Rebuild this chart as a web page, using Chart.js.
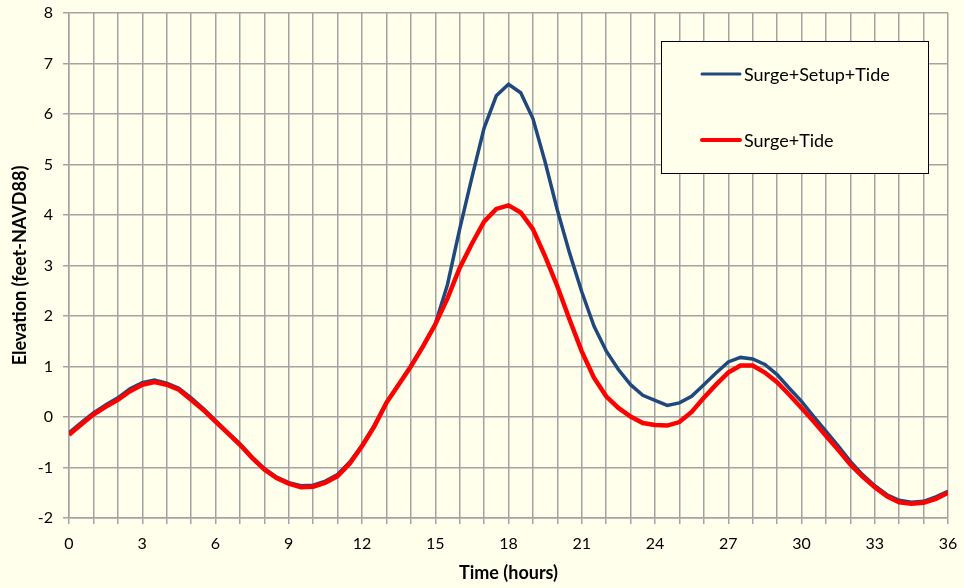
<!DOCTYPE html>
<html>
<head>
<meta charset="utf-8">
<script src="https://cdn.jsdelivr.net/npm/chart.js@4/dist/chart.umd.min.js"></script>
<style>
  html, body { margin: 0; padding: 0; background: #FFFFEC; }
  #wrap { width: 964px; height: 588px; }
</style>
</head>
<body>
<div id="wrap"><canvas id="surge-chart" width="964" height="588"></canvas></div>
<script>
/* ── Data: elevation every half hour ── */
const hours = [
  0, 0.5, 1, 1.5, 2, 2.5, 3, 3.5, 4, 4.5, 5, 5.5, 6, 6.5, 7, 7.5, 8, 8.5, 9, 9.5,
  10, 10.5, 11, 11.5, 12, 12.5, 13, 13.5, 14, 14.5, 15, 15.5, 16, 16.5, 17, 17.5,
  18, 18.5, 19, 19.5, 20, 20.5, 21, 21.5, 22, 22.5, 23, 23.5, 24, 24.5, 25, 25.5,
  26, 26.5, 27, 27.5, 28, 28.5, 29, 29.5, 30, 30.5, 31, 31.5, 32, 32.5, 33, 33.5,
  34, 34.5, 35, 35.5, 36
];
const surgeSetupTide = [
  -0.31, -0.11, 0.08, 0.24, 0.38, 0.56, 0.68, 0.73, 0.67, 0.57, 0.38, 0.17, -0.07, -0.30,
  -0.53, -0.79, -1.02, -1.19, -1.30, -1.36, -1.35, -1.27, -1.14, -0.89, -0.56, -0.17,
  0.29, 0.65, 1.01, 1.41, 1.84, 2.62, 3.72, 4.74, 5.72, 6.36, 6.59, 6.42, 5.91, 5.05,
  4.10, 3.25, 2.48, 1.80, 1.31, 0.94, 0.64, 0.43, 0.33, 0.23, 0.28, 0.41, 0.64, 0.87,
  1.09, 1.18, 1.15, 1.04, 0.84, 0.57, 0.31, 0.01, -0.28, -0.57, -0.88, -1.14, -1.36,
  -1.54, -1.65, -1.69, -1.67, -1.58, -1.47
];
const surgeTide = [
  -0.35, -0.15, 0.05, 0.20, 0.34, 0.51, 0.64, 0.69, 0.64, 0.54, 0.34, 0.14, -0.09, -0.32,
  -0.55, -0.81, -1.04, -1.21, -1.32, -1.39, -1.38, -1.30, -1.17, -0.92, -0.58, -0.19,
  0.28, 0.64, 1.00, 1.40, 1.83, 2.35, 2.95, 3.43, 3.87, 4.12, 4.19, 4.05, 3.72, 3.18,
  2.59, 1.93, 1.30, 0.78, 0.41, 0.18, 0.01, -0.12, -0.16, -0.17, -0.10, 0.10, 0.38, 0.64,
  0.88, 1.02, 1.02, 0.88, 0.69, 0.44, 0.18, -0.09, -0.37, -0.65, -0.94, -1.18, -1.39,
  -1.57, -1.69, -1.72, -1.70, -1.62, -1.50
];
const seriesLabels = ['Surge+Setup+Tide', 'Surge+Tide'];

/* ── Styling ── */
const BG = '#FFFFEC';
const GRID = '#A3A3A3';
const FONT = "Lato, 'Open Sans', sans-serif";
const BLUE = '#1F497D';
const RED = '#FF0000';

const toXY = (vals) => vals.map((v, i) => ({ x: hours[i], y: v }));

// paints the cream page behind everything
const bgPlugin = {
  id: 'bg',
  beforeDraw(chart) {
    const { ctx, width, height } = chart;
    ctx.save();
    ctx.fillStyle = BG;
    ctx.fillRect(0, 0, width, height);
    ctx.restore();
  }
};

// boxed legend sitting inside the plot, top right
const boxLegend = {
  id: 'boxLegend',
  afterDraw(chart) {
    const { ctx } = chart;
    const bx = 661, by = 41, bw = 267, bh = 132;
    ctx.save();
    ctx.fillStyle = BG;
    ctx.fillRect(bx, by, bw, bh);
    ctx.strokeStyle = '#000';
    ctx.lineWidth = 1;
    ctx.strokeRect(bx + 0.5, by + 0.5, bw, bh);
    const rows = [
      { y: 74, color: BLUE, width: 3, text: seriesLabels[0] },
      { y: 140, color: RED, width: 4, text: seriesLabels[1] }
    ];
    ctx.font = `18px ${FONT}`;
    ctx.textBaseline = 'middle';
    rows.forEach(r => {
      ctx.strokeStyle = r.color;
      ctx.lineWidth = r.width;
      ctx.lineCap = 'round';
      ctx.beginPath();
      ctx.moveTo(702, r.y);
      ctx.lineTo(740, r.y);
      ctx.stroke();
      ctx.fillStyle = '#000';
      ctx.fillText(r.text, 744, r.y + 1);
    });
    ctx.restore();
  }
};

new Chart(document.getElementById('surge-chart'), {
  type: 'line',
  data: {
    datasets: [
      {
        label: seriesLabels[0],
        data: toXY(surgeSetupTide),
        borderColor: BLUE,
        borderWidth: 3.5,
        pointRadius: 0,
        tension: 0,
        order: 1
      },
      {
        label: seriesLabels[1],
        data: toXY(surgeTide),
        borderColor: RED,
        borderWidth: 4.5,
        pointRadius: 0,
        tension: 0,
        order: 0
      }
    ]
  },
  options: {
    responsive: false,
    animation: false,
    layout: { padding: { left: 0, top: 13, right: 16, bottom: 0 } },
    plugins: {
      legend: { display: false },
      tooltip: { enabled: false }
    },
    scales: {
      x: {
        type: 'linear',
        min: 0,
        max: 36,
        afterFit: s => {
          s.height = 70;
          s.paddingLeft = 0;
          s.paddingRight = 0;
        },
        ticks: {
          stepSize: 1,
          autoSkip: false,
          maxRotation: 0,
          padding: 10,
          color: '#000',
          font: { family: FONT, size: 16 },
          callback: v => (v % 3 === 0 ? String(v) : '')
        },
        grid: { color: GRID, lineWidth: 1.5, tickLength: 6 },
        border: { color: GRID, width: 1.5 },
        title: {
          display: true,
          text: 'Time (hours)',
          color: '#000',
          font: { family: FONT, size: 18, weight: 'bold' },
          padding: { top: 0, bottom: 4 }
        }
      },
      y: {
        min: -2,
        max: 8,
        afterFit: s => {
          s.width = 69;
          s.paddingTop = 0;
          s.paddingBottom = 0;
        },
        ticks: {
          stepSize: 1,
          padding: 10,
          color: '#000',
          font: { family: FONT, size: 16 }
        },
        grid: { color: GRID, lineWidth: 1.5, tickLength: 6 },
        border: { color: GRID, width: 1.5 },
        title: {
          display: true,
          text: 'Elevation (feet-NAVD88)',
          color: '#000',
          font: { family: FONT, size: 18, weight: 'bold' },
          padding: { top: 9, bottom: 0 }
        }
      }
    }
  },
  plugins: [bgPlugin, boxLegend]
});
</script>
</body>
</html>
